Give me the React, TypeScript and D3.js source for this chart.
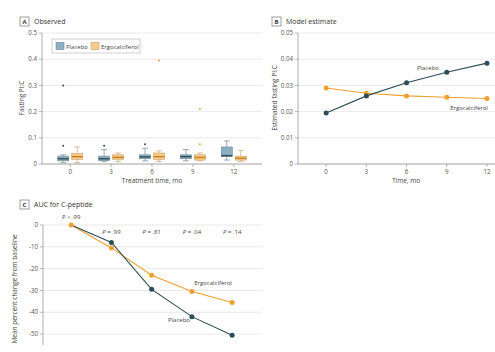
import * as d3 from 'd3'

const MONTHS = ['0', '3', '6', '9', '12']
const MONTHS_NUM = [0, 3, 6, 9, 12]

// box stats: [low whisker, q1, median, q3, high whisker]
const PLACEBO_BOX = [
  [0.005, 0.012, 0.02, 0.03, 0.035],
  [0.01, 0.013, 0.02, 0.03, 0.055],
  [0.012, 0.02, 0.027, 0.035, 0.06],
  [0.012, 0.02, 0.028, 0.035, 0.055],
  [0.015, 0.028, 0.032, 0.065, 0.088],
]
const ERGO_BOX = [
  [0.005, 0.018, 0.028, 0.04, 0.065],
  [0.01, 0.018, 0.025, 0.035, 0.042],
  [0.01, 0.018, 0.028, 0.042, 0.05],
  [0.012, 0.015, 0.025, 0.035, 0.042],
  [0.01, 0.015, 0.022, 0.03, 0.052],
]
const PLACEBO_OUT = [[0.07, 0.3], [0.07], [0.075], [], []]
const ERGO_OUT = [[], [], [0.395], [0.075, 0.21], []]

const A_TICKS = [0, 0.1, 0.2, 0.3, 0.4, 0.5]

const B_PLACEBO = [0.0195, 0.026, 0.031, 0.035, 0.0385]
const B_ERGO = [0.029, 0.027, 0.026, 0.0255, 0.025]
const B_TICKS = [0, 0.01, 0.02, 0.03, 0.04, 0.05]

const C_PLACEBO = [0, -8, -29.5, -42, -50.5]
const C_ERGO = [0, -10.5, -23, -30.5, -35.5]
const C_TICKS = [0, -10, -20, -30, -40, -50]
const C_PVALS = ['> .99', '= .99', '= .81', '= .04', '= .14']

const BLUE = '#2c4d55'
const BLUE_FILL = '#8eafc2'
const ORANGE = '#f0a030'
const ORANGE_FILL = '#f7cb8c'
const GRID = '#e3e3e3'
const AXIS = '#9a9a9a'
const TXT = '#555'
const FONT = '"Open Sans", sans-serif'

function PanelTag({ x, y, tag, title }: { x: number; y: number; tag: string; title: string }) {
  return (
    <g>
      <rect x={x} y={y} width={9} height={9} fill="#fff" stroke="#777" strokeWidth={0.7} />
      <text x={x + 4.5} y={y + 6.8} fontSize={6} fontWeight={700} textAnchor="middle" fill="#333">{tag}</text>
      <text x={x + 14} y={y + 7} fontSize={7} fill="#333">{title}</text>
    </g>
  )
}

function YAxis({ scale, ticks, x, x2, fmt }: { scale: any; ticks: number[]; x: number; x2: number; fmt: (v: number) => string }) {
  const r = scale.range()
  return (
    <g>
      {ticks.map(t => (
        <g key={t}>
          <line x1={x} x2={x2} y1={scale(t)} y2={scale(t)} stroke={GRID} strokeWidth={0.8} />
          <line x1={x - 3} x2={x} y1={scale(t)} y2={scale(t)} stroke={AXIS} strokeWidth={0.7} />
          <text x={x - 5} y={scale(t) + 2.2} fontSize={6.2} textAnchor="end" fill={TXT}>{fmt(t)}</text>
        </g>
      ))}
      <line x1={x} x2={x} y1={r[0]} y2={r[1]} stroke={AXIS} strokeWidth={0.8} />
    </g>
  )
}

export default function App() {
  // Panel A
  const aX = d3.scalePoint<string>().domain(MONTHS).range([42, 262]).padding(0.69)
  const aY = d3.scaleLinear().domain([0, 0.5]).range([164, 33])
  const bw = 11

  // Panel B
  const bX = d3.scaleLinear().domain([-2.1, 12.45]).range([298, 493])
  const bY = d3.scaleLinear().domain([0, 0.05]).range([164, 33])
  const bLine = d3.line<number>().x((_, i) => bX(MONTHS_NUM[i])).y(d => bY(d))

  // Panel C
  const cX = d3.scaleLinear().domain([-2.1, 14.3]).range([43, 263])
  const cY = d3.scaleLinear().domain([-55, 0]).range([345, 225])
  const cLine = d3.line<number>().x((_, i) => cX(MONTHS_NUM[i])).y(d => cY(d))

  const box = (s: number[], cx: number, fill: string, stroke: string, med: string, key: string) => (
    <g key={key}>
      <line x1={cx} x2={cx} y1={aY(s[0])} y2={aY(s[1])} stroke={stroke} strokeWidth={0.7} />
      <line x1={cx} x2={cx} y1={aY(s[3])} y2={aY(s[4])} stroke={stroke} strokeWidth={0.7} />
      <line x1={cx - 3} x2={cx + 3} y1={aY(s[0])} y2={aY(s[0])} stroke={stroke} strokeWidth={0.7} />
      <line x1={cx - 3} x2={cx + 3} y1={aY(s[4])} y2={aY(s[4])} stroke={stroke} strokeWidth={0.7} />
      <rect x={cx - bw / 2} y={aY(s[3])} width={bw} height={aY(s[1]) - aY(s[3])} fill={fill} stroke={stroke} strokeWidth={0.6} />
      <line x1={cx - bw / 2} x2={cx + bw / 2} y1={aY(s[2])} y2={aY(s[2])} stroke={med} strokeWidth={1.4} />
    </g>
  )

  return (
    <svg width={495} height={352} style={{ position: 'absolute', left: 0, top: 0, background: '#fff' }} fontFamily={FONT}>
      {/* Panel A */}
      <PanelTag x={20} y={17} tag="A" title="Observed" />
      <YAxis scale={aY} ticks={A_TICKS} x={42} x2={262} fmt={v => (v === 0 ? '0' : String(v))} />
      <line x1={42} x2={262} y1={164} y2={164} stroke={AXIS} strokeWidth={0.8} />
      {MONTHS.map((m, i) => {
        const cx = aX(m)!
        return (
          <g key={m}>
            <line x1={cx} x2={cx} y1={164} y2={167} stroke={AXIS} strokeWidth={0.7} />
            <text x={cx} y={174} fontSize={6.2} textAnchor="middle" fill={TXT}>{m}</text>
            {box(PLACEBO_BOX[i], cx - 7, BLUE_FILL, '#6c8796', BLUE, 'p' + m)}
            {box(ERGO_BOX[i], cx + 7, ORANGE_FILL, '#c9a06a', '#c97f1e', 'e' + m)}
            {PLACEBO_OUT[i].map(v => <circle key={'po' + v} cx={cx - 7} cy={aY(v)} r={1} fill={BLUE} />)}
            {ERGO_OUT[i].map(v => <circle key={'eo' + v} cx={cx + 7} cy={aY(v)} r={1} fill={ORANGE} />)}
          </g>
        )
      })}
      <text x={152} y={183} fontSize={6.5} textAnchor="middle" fill="#444">Treatment time, mo</text>
      <text transform="translate(24,98) rotate(-90)" fontSize={6.5} textAnchor="middle" fill="#444">Fasting PI:C</text>
      <rect x={52} y={39} width={88} height={14} fill="#fff" stroke="#bbb" strokeWidth={0.7} />
      <rect x={56} y={42.5} width={8} height={7} fill={BLUE_FILL} stroke="#6c8796" strokeWidth={0.6} />
      <text x={66} y={48.5} fontSize={6} fill="#444">Placebo</text>
      <rect x={91} y={42.5} width={8} height={7} fill={ORANGE_FILL} stroke="#c9a06a" strokeWidth={0.6} />
      <text x={101} y={48.5} fontSize={6} fill="#444">Ergocalciferol</text>

      {/* Panel B */}
      <PanelTag x={272} y={17} tag="B" title="Model estimate" />
      <YAxis scale={bY} ticks={B_TICKS} x={298} x2={495} fmt={v => (v === 0 ? '0' : v.toFixed(2))} />
      <line x1={298} x2={495} y1={164} y2={164} stroke={AXIS} strokeWidth={0.8} />
      {MONTHS_NUM.map(m => (
        <g key={'bt' + m}>
          <line x1={bX(m)} x2={bX(m)} y1={164} y2={167} stroke={AXIS} strokeWidth={0.7} />
          <text x={bX(m)} y={174} fontSize={6.2} textAnchor="middle" fill={TXT}>{m}</text>
        </g>
      ))}
      <text x={406} y={183} fontSize={6.5} textAnchor="middle" fill="#444">Time, mo</text>
      <text transform="translate(277,98) rotate(-90)" fontSize={6.5} textAnchor="middle" fill="#444">Estimated fasting PI:C</text>
      <path d={bLine(B_ERGO)!} fill="none" stroke={ORANGE} strokeWidth={1.1} />
      <path d={bLine(B_PLACEBO)!} fill="none" stroke={BLUE} strokeWidth={1.1} />
      {B_ERGO.map((v, i) => <circle key={'be' + i} cx={bX(MONTHS_NUM[i])} cy={bY(v)} r={2.5} fill={ORANGE} />)}
      {B_PLACEBO.map((v, i) => <circle key={'bp' + i} cx={bX(MONTHS_NUM[i])} cy={bY(v)} r={2.5} fill={BLUE} />)}
      <text x={428} y={70} fontSize={6} textAnchor="middle" fill="#444">Placebo</text>
      <text x={469} y={110} fontSize={6} textAnchor="middle" fill="#444">Ergocalciferol</text>

      {/* Panel C */}
      <PanelTag x={20} y={200} tag="C" title="AUC for C-peptide" />
      <YAxis scale={cY} ticks={C_TICKS} x={43} x2={262} fmt={v => String(v)} />
      {C_PVALS.map((p, i) => (
        <text key={'pv' + i} x={cX(MONTHS_NUM[i])} y={i === 0 ? 219 : 234} fontSize={6} textAnchor="middle" fill="#444">
          <tspan fontStyle="italic">P</tspan> {p}
        </text>
      ))}
      <path d={cLine(C_ERGO)!} fill="none" stroke={ORANGE} strokeWidth={1.1} />
      <path d={cLine(C_PLACEBO)!} fill="none" stroke={BLUE} strokeWidth={1.1} />
      {C_ERGO.map((v, i) => <circle key={'ce' + i} cx={cX(MONTHS_NUM[i])} cy={cY(v)} r={2.5} fill={ORANGE} />)}
      {C_PLACEBO.slice(1).map((v, i) => <circle key={'cp' + i} cx={cX(MONTHS_NUM[i + 1])} cy={cY(v)} r={2.5} fill={BLUE} />)}
      <text x={213} y={285} fontSize={6} textAnchor="middle" fill="#444">Ergocalciferol</text>
      <text x={179} y={322} fontSize={6} textAnchor="middle" fill="#444">Placebo</text>
      <text transform="translate(17,289) rotate(-90)" fontSize={6.5} textAnchor="middle" fill="#444">Mean percent change from baseline</text>
    </svg>
  )
}
